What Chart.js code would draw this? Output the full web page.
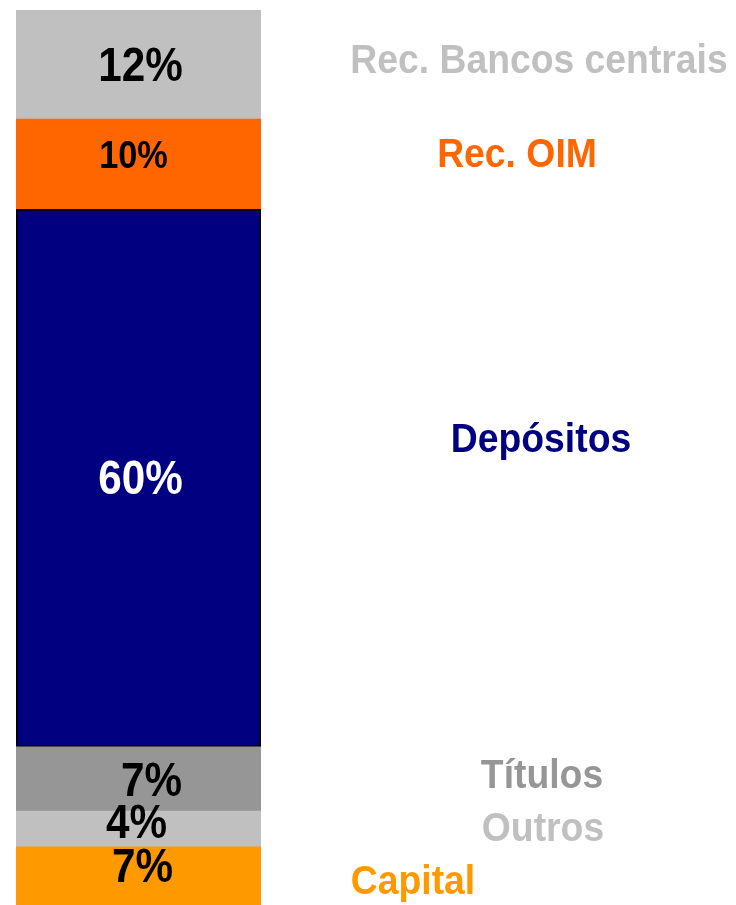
<!DOCTYPE html>
<html>
<head>
<meta charset="utf-8">
<script src="https://cdn.jsdelivr.net/npm/chart.js@4.4.1/dist/chart.umd.min.js"></script>
<style>
  html, body { margin: 0; padding: 0; background: #fff; }
  #wrap { width: 736px; height: 905px; position: relative; }
</style>
</head>
<body>
<div id="wrap"><canvas id="funding"></canvas></div>
<script>
// Estrutura de financiamento (de baixo para cima)
const categories = ['Capital', 'Outros', 'Títulos', 'Depósitos', 'Rec. OIM', 'Rec. Bancos centrais'];
const shares = [6.5, 4.0, 7.2, 60.1, 10.1, 12.2];
const barColors = ['#FF9900', '#C0C0C0', '#969696', '#000080', '#FF6600', '#C0C0C0'];
const nameColors = ['#FF9900', '#C0C0C0', '#969696', '#000080', '#FF6600', '#C0C0C0'];

const total = shares.reduce((a, b) => a + b, 0);

// desenha texto "estreito" (a fonte original é condensada)
function narrowText(ctx, txt, x, cy, size, weight, color, sx) {
  ctx.save();
  ctx.font = weight + ' ' + size + 'px "Liberation Sans", Arial, sans-serif';
  ctx.fillStyle = color;
  ctx.textAlign = 'center';
  ctx.textBaseline = 'alphabetic';
  ctx.translate(x, cy + size * 0.358);
  ctx.scale(sx, 1);
  ctx.fillText(txt, 0, 0);
  ctx.restore();
}

const segmentLabels = {
  id: 'segmentLabels',
  afterDatasetsDraw(chart, args, opts) {
    const ctx = chart.ctx;
    chart.data.datasets.forEach((ds, i) => {
      const bar = chart.getDatasetMeta(i).data[0];
      const cy = (bar.y + bar.base) / 2;
      // percentagem dentro da barra
      const v = opts.value[i];
      narrowText(ctx, Math.round(ds.data[0]) + '%', bar.x + v.dx, cy + v.dy,
        v.size, 'bold', v.color, 0.88);
      // nome da rubrica à direita
      const n = opts.name[i];
      narrowText(ctx, ds.label, bar.x + bar.width / 2 + n.dx, cy + n.dy,
        41, 'bold', nameColors[i], 0.91);
    });
  }
};

new Chart(document.getElementById('funding'), {
  type: 'bar',
  data: {
    labels: [''],
    datasets: categories.map((c, i) => ({
      label: c,
      data: [shares[i]],
      backgroundColor: barColors[i],
      borderColor: '#000',
      borderWidth: c === 'Depósitos' ? 2 : 0,
      borderSkipped: false
    }))
  },
  options: {
    responsive: true,
    maintainAspectRatio: false,
    animation: false,
    layout: { padding: { left: 16, right: 475, top: 10, bottom: 0 } },
    datasets: { bar: { barPercentage: 1, categoryPercentage: 1 } },
    scales: {
      x: { stacked: true, display: false },
      y: { stacked: true, display: false, min: 0, max: total }
    },
    plugins: {
      legend: { display: false },
      tooltip: { enabled: false },
      segmentLabels: {
        value: [
          { dx: 4, dy: -11, size: 48, color: '#000' },
          { dx: -2, dy: -8, size: 48, color: '#000' },
          { dx: 13, dy: 0, size: 48, color: '#000' },
          { dx: 2, dy: -1, size: 48, color: '#fff' },
          { dx: -5, dy: -10, size: 39, color: '#000' },
          { dx: 2, dy: -1, size: 48, color: '#000' }
        ],
        name: [
          { dx: 152, dy: 3 },
          { dx: 282, dy: -3 },
          { dx: 281, dy: -6 },
          { dx: 280, dy: -41 },
          { dx: 256, dy: -12 },
          { dx: 278, dy: -6 }
        ]
      }
    }
  },
  plugins: [segmentLabels]
});
</script>
</body>
</html>
